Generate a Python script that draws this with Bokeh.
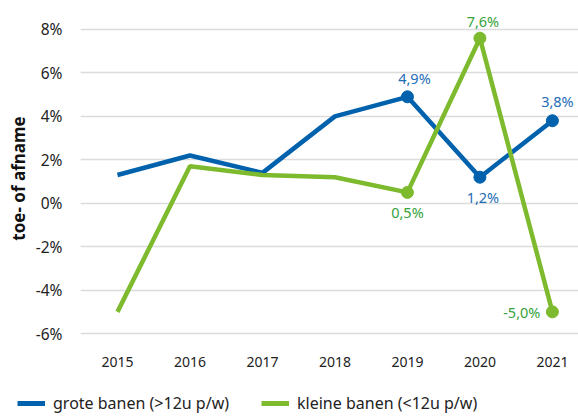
from bokeh.plotting import figure
from bokeh.models import ColumnDataSource, Range1d, FixedTicker, LabelSet, Legend, LegendItem
from bokeh.core.properties import value
from bokeh.embed import file_html
from bokeh.resources import INLINE

years = [2015, 2016, 2017, 2018, 2019, 2020, 2021]
grote = [1.3, 2.2, 1.4, 4.0, 4.9, 1.2, 3.8]
kleine = [-5.0, 1.7, 1.3, 1.2, 0.5, 7.6, -5.0]
y_ticks = [-6, -4, -2, 0, 2, 4, 6, 8]
series_names = ["grote banen (>12u p/w)", "kleine banen (<12u p/w)"]
y_title = "toe- of afname"

BLUE = "#0062AD"
GREEN = "#7DBA2D"
GREEN_TXT = "#35A23A"
BLUE_TXT = "#1E6DB6"
FONT = "Noto Sans"

def fmt(v):
    return f"{v:.1f}".replace(".", ",") + "%"

p = figure(width=578, height=380, output_backend="svg", toolbar_location=None,
           x_range=Range1d(2014.49, 2021.36), y_range=Range1d(-6.41, 8.69),
           min_border_left=80, min_border_right=0, min_border_top=14, min_border_bottom=38)
p.outline_line_color = None
p.background_fill_color = "white"
p.border_fill_color = "white"

p.xgrid.grid_line_color = None
p.ygrid.grid_line_color = "#DCDCDC"
p.ygrid.grid_line_width = 1.5
p.yaxis.ticker = FixedTicker(ticks=y_ticks)
p.xaxis.ticker = FixedTicker(ticks=years)
p.yaxis.major_label_overrides = {t: f"{t}%" for t in y_ticks}
for ax in (p.xaxis, p.yaxis):
    ax.axis_line_color = None
    ax.major_tick_line_color = None
    ax.minor_tick_line_color = None
    ax.major_label_text_font = FONT
    ax.major_label_text_color = "#222222"
p.yaxis.major_label_text_font_size = "15.5px"
p.xaxis.major_label_text_font_size = "14px"
p.yaxis.major_label_standoff = 12
p.xaxis.major_label_standoff = 8
p.yaxis.axis_label = y_title
p.yaxis.axis_label_text_font = FONT
p.yaxis.axis_label_text_font_style = "bold"
p.yaxis.axis_label_text_font_size = "17px"
p.yaxis.axis_label_text_color = "#111111"
p.yaxis.axis_label_standoff = 3

src = ColumnDataSource(dict(x=years, g=grote, k=kleine))
p.line("x", "g", source=src, line_color=BLUE, line_width=4.5)
p.line("x", "k", source=src, line_color=GREEN, line_width=4.5)

hi_years = years[4:]
gsrc = ColumnDataSource(dict(x=hi_years, y=grote[4:]))
ksrc = ColumnDataSource(dict(x=hi_years, y=kleine[4:]))
p.scatter("x", "y", source=gsrc, size=12, color=BLUE)
p.scatter("x", "y", source=ksrc, size=12, color=GREEN)

def labels(xs, ys, color, xo, yo, align, base):
    s = ColumnDataSource(dict(x=xs, y=ys, t=[fmt(v) for v in ys]))
    ls = LabelSet(x="x", y="y", text="t", source=s, x_offset=xo, y_offset=yo,
                  text_align=align, text_baseline=base, text_font=value(FONT),
                  text_font_size=value("14.5px"), text_color=color)
    p.add_layout(ls)

labels([hi_years[0]], [grote[4]], BLUE_TXT, 7, 9, "center", "bottom")
labels([hi_years[2]], [grote[6]], BLUE_TXT, 5, 10, "center", "bottom")
labels([hi_years[1]], [grote[5]], BLUE_TXT, 3, -10, "center", "top")
labels([hi_years[0]], [kleine[4]], GREEN_TXT, 0, -10, "center", "top")
labels([hi_years[1]], [kleine[5]], GREEN_TXT, 3, 7, "center", "bottom")
labels([hi_years[2]], [kleine[6]], GREEN_TXT, -12, 0, "right", "middle")

# legend strip below the chart, as its own root so its frame spans the full width
q = figure(width=578, height=36, output_backend="svg", toolbar_location=None,
           x_range=Range1d(0, 1), y_range=Range1d(0, 1),
           x_axis_type=None, y_axis_type=None,
           min_border=0, min_border_left=0, min_border_right=0, min_border_top=0, min_border_bottom=0)
q.grid.grid_line_color = None
q.outline_line_color = None
rb = q.line(x=[5, 6], y=[5, 6], line_color=BLUE, line_width=5)
rg = q.line(x=[5, 6], y=[5, 6], line_color=GREEN, line_width=5)
legend = Legend(items=[LegendItem(label=series_names[0], renderers=[rb]),
                       LegendItem(label=series_names[1], renderers=[rg])],
                orientation="horizontal", location=(17, 2),
                label_text_font=FONT, label_text_font_size="16px", label_text_color="#222222",
                glyph_width=28, glyph_height=20, spacing=32, padding=0, margin=0,
                border_line_color=None, background_fill_alpha=0, label_standoff=8)
q.add_layout(legend, "center")

open("out.html", "w").write(file_html([p, q], INLINE))
